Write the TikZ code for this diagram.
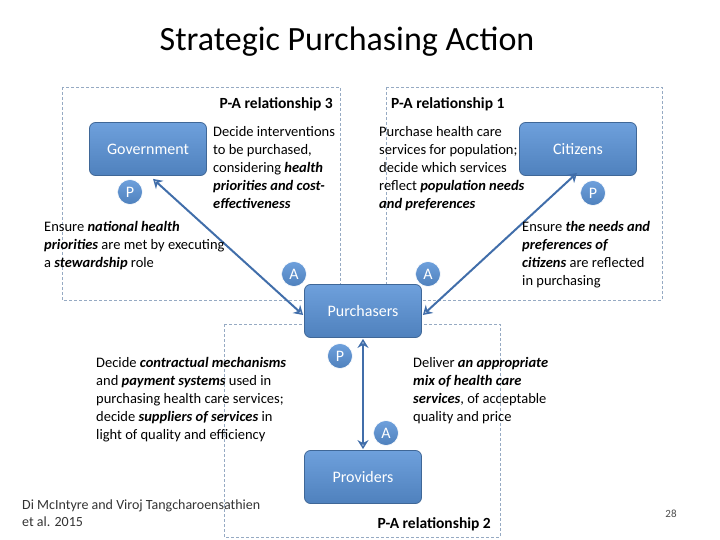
\documentclass[tikz,border=0pt]{standalone}
\usepackage{fontspec}
\setmainfont{Carlito}
\usetikzlibrary{arrows.meta}
\definecolor{nb}{RGB}{79,129,189}
\definecolor{nl}{RGB}{110,160,220}
\definecolor{dk}{RGB}{65,110,170}
\definecolor{bx}{RGB}{150,170,195}
\begin{document}
\begin{tikzpicture}[x=1pt,y=-1pt,
 ent/.style={draw=nb!80!black,line width=0.8pt,rounded corners=6pt,top color=nl,bottom color=nb,minimum width=117pt,minimum height=53pt,text=white,font=\fontsize{16}{18}\selectfont},
 pa/.style={circle,draw=white,line width=0.6pt,top color=nl,bottom color=nb,minimum size=25pt,inner sep=0pt,text=white,font=\fontsize{16}{18}\selectfont},
 box/.style={draw=bx,densely dashed,line width=0.8pt},
 rel/.style={dk,line width=2pt,{Stealth[open,length=9pt,width=11pt]}-{Stealth[open,length=9pt,width=11pt]}},
 txt/.style={align=left,inner sep=0pt,font=\fontsize{14.5}{18}\selectfont},
 hd/.style={inner sep=0pt,font=\bfseries\fontsize{15.5}{17}\selectfont}]
\useasboundingbox (0,0) rectangle (720,540);
\node[font=\fontsize{34}{38}\selectfont] (title) at (347,42) {Strategic Purchasing Action};
\draw[box] (62,87) rectangle (340,300);
\draw[box] (386,87) rectangle (662,300);
\draw[box] (224,324) rectangle (500,537);
\node[ent] (gov) at (148,149) {Government};
\node[ent] (cit) at (578,149) {Citizens};
\node[ent] (pur) at (363,311) {Purchasers};
\node[ent] (pro) at (363,477) {Providers};
\draw[rel] (gov.south)++(5,3) coordinate (g1) -- ([xshift=-1pt,yshift=-4pt]pur.west);
\draw[rel] ([xshift=-1pt,yshift=3pt]cit.south) -- ([xshift=1pt,yshift=-4pt]pur.east);
\draw[rel] ([yshift=-1pt]pur.south) -- ([yshift=1pt]pro.north);
\node[pa] (p1) at (130,192) {P};
\node[pa] (a1) at (294,274) {A};
\node[pa] (a2) at (428,274) {A};
\node[pa] (p2) at (593,193) {P};
\node[pa] (p3) at (340,356) {P};
\node[pa] (a3) at (386,433) {A};
\node[hd,anchor=east] (h3) at (333,104) {P-A relationship 3};
\node[hd,anchor=west] (h1) at (391,104) {P-A relationship 1};
\node[hd,anchor=east] (h2) at (491,524) {P-A relationship 2};
\node[txt,anchor=north west] (t1) at (213,126) {Decide interventions\\to be purchased,\\considering \textbf{\textit{health}}\\\textbf{\textit{priorities and cost-}}\\\textbf{\textit{effectiveness}}};
\node[txt,anchor=north west] (t2) at (44,221) {Ensure \textbf{\textit{national health}}\\\textbf{\textit{priorities}} are met by executing\\a \textbf{\textit{stewardship}} role};
\node[txt,anchor=north west] (t3) at (379,126) {Purchase health care\\services for population;\\decide which services\\reflect \textbf{\textit{population needs}}\\\textbf{\textit{and preferences}}};
\node[txt,anchor=north west] (t4) at (522,221) {Ensure \textbf{\textit{the needs and}}\\\textbf{\textit{preferences of}}\\\textbf{\textit{citizens}} are reflected\\in purchasing};
\node[txt,anchor=north west] (t5) at (96,357) {Decide \textbf{\textit{contractual mechanisms}}\\and \textbf{\textit{payment systems}} used in\\purchasing health care services;\\decide \textbf{\textit{suppliers of services}} in\\light of quality and efficiency};
\node[txt,anchor=north west] (t6) at (413,357) {Deliver \textbf{\textit{an appropriate}}\\\textbf{\textit{mix of health care}}\\\textbf{\textit{services}}, of acceptable\\quality and price};
\node[txt,anchor=north west,font=\fontsize{14}{17}\selectfont,text=black!80] (ft) at (22,500) {Di McIntyre and Viroj Tangcharoensathien\\et al. 2015};
\node[font=\fontsize{11}{12}\selectfont,text=black!70] (pg) at (671,514) {28};
\end{tikzpicture}
\end{document}
